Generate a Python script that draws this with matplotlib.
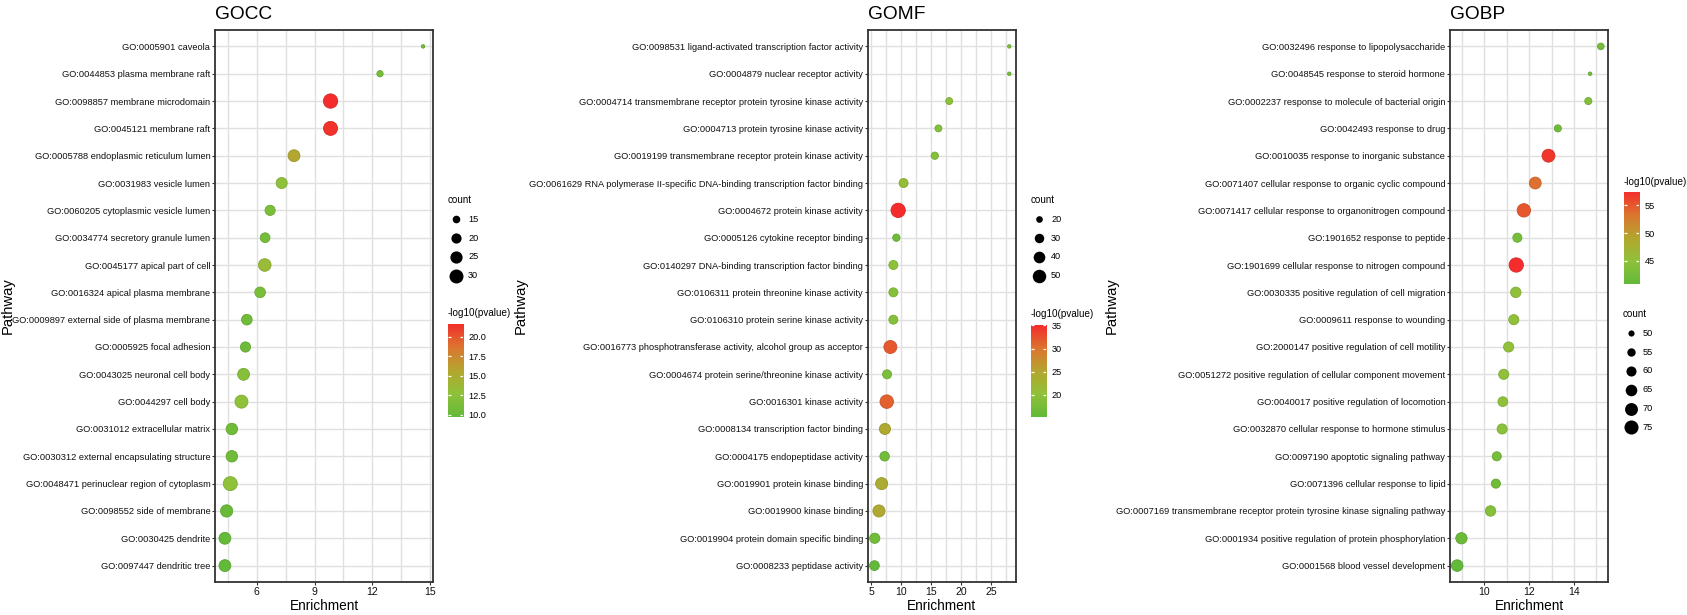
import numpy as np
import matplotlib
matplotlib.use("Agg")
import matplotlib.pyplot as plt
from matplotlib.colors import LinearSegmentedColormap, Normalize

W, H, DPI = 1687, 615, 100

# GO cellular component
gocc_terms = [
    "GO:0005901 caveola", "GO:0044853 plasma membrane raft",
    "GO:0098857 membrane microdomain", "GO:0045121 membrane raft",
    "GO:0005788 endoplasmic reticulum lumen", "GO:0031983 vesicle lumen",
    "GO:0060205 cytoplasmic vesicle lumen", "GO:0034774 secretory granule lumen",
    "GO:0045177 apical part of cell", "GO:0016324 apical plasma membrane",
    "GO:0009897 external side of plasma membrane", "GO:0005925 focal adhesion",
    "GO:0043025 neuronal cell body", "GO:0044297 cell body",
    "GO:0031012 extracellular matrix", "GO:0030312 external encapsulating structure",
    "GO:0048471 perinuclear region of cytoplasm", "GO:0098552 side of membrane",
    "GO:0030425 dendrite", "GO:0097447 dendritic tree",
]
gocc_enrich = [14.64, 12.4, 9.83, 9.83, 7.93, 7.29, 6.69, 6.43, 6.41, 6.17,
               5.48, 5.41, 5.31, 5.2, 4.7, 4.7, 4.62, 4.43, 4.34, 4.34]
gocc_count = [10, 13, 31, 30, 24, 22, 20, 19, 26, 21,
              21, 20, 24, 27, 23, 23, 30, 25, 24, 24]
gocc_logp = [10.6, 11.0, 21.6, 21.3, 15.5, 12.6, 11.4, 11.0, 13.4, 11.2,
             10.6, 10.5, 12.0, 12.6, 10.6, 10.6, 12.6, 10.2, 9.9, 9.7]

# GO molecular function
gomf_terms = [
    "GO:0098531 ligand-activated transcription factor activity",
    "GO:0004879 nuclear receptor activity",
    "GO:0004714 transmembrane receptor protein tyrosine kinase activity",
    "GO:0004713 protein tyrosine kinase activity",
    "GO:0019199 transmembrane receptor protein kinase activity",
    "GO:0061629 RNA polymerase II-specific DNA-binding transcription factor binding",
    "GO:0004672 protein kinase activity",
    "GO:0005126 cytokine receptor binding",
    "GO:0140297 DNA-binding transcription factor binding",
    "GO:0106311 protein threonine kinase activity",
    "GO:0106310 protein serine kinase activity",
    "GO:0016773 phosphotransferase activity, alcohol group as acceptor",
    "GO:0004674 protein serine/threonine kinase activity",
    "GO:0016301 kinase activity",
    "GO:0008134 transcription factor binding",
    "GO:0004175 endopeptidase activity",
    "GO:0019901 protein kinase binding",
    "GO:0019900 kinase binding",
    "GO:0019904 protein domain specific binding",
    "GO:0008233 peptidase activity",
]
gomf_enrich = [28.0, 28.0, 18.0, 16.2, 15.6, 10.4, 9.5, 9.2, 8.7, 8.7,
               8.7, 8.2, 7.65, 7.6, 7.3, 7.25, 6.75, 6.3, 5.6, 5.55]
gomf_count = [13, 13, 21, 21, 22, 28, 55, 22, 28, 28,
              28, 47, 28, 50, 37, 30, 42, 42, 33, 31]
gomf_logp = [18.0, 17.2, 20.0, 19.2, 19.0, 21.0, 35.1, 16.5, 20.0, 19.2,
             19.2, 32.0, 18.0, 31.5, 24.5, 17.0, 24.0, 24.5, 17.0, 15.3]

# GO biological process
gobp_terms = [
    "GO:0032496 response to lipopolysaccharide",
    "GO:0048545 response to steroid hormone",
    "GO:0002237 response to molecule of bacterial origin",
    "GO:0042493 response to drug",
    "GO:0010035 response to inorganic substance",
    "GO:0071407 cellular response to organic cyclic compound",
    "GO:0071417 cellular response to organonitrogen compound",
    "GO:1901652 response to peptide",
    "GO:1901699 cellular response to nitrogen compound",
    "GO:0030335 positive regulation of cell migration",
    "GO:0009611 response to wounding",
    "GO:2000147 positive regulation of cell motility",
    "GO:0051272 positive regulation of cellular component movement",
    "GO:0040017 positive regulation of locomotion",
    "GO:0032870 cellular response to hormone stimulus",
    "GO:0097190 apoptotic signaling pathway",
    "GO:0071396 cellular response to lipid",
    "GO:0007169 transmembrane receptor protein tyrosine kinase signaling pathway",
    "GO:0001934 positive regulation of protein phosphorylation",
    "GO:0001568 blood vessel development",
]
gobp_enrich = [15.2, 14.72, 14.64, 13.28, 12.86, 12.27, 11.76, 11.47, 11.42, 11.4,
               11.31, 11.08, 10.86, 10.82, 10.79, 10.55, 10.51, 10.27, 8.97, 8.78]
gobp_count = [51, 46, 52, 52, 70, 66, 72, 57, 76, 61,
              60, 60, 60, 59, 60, 57, 57, 61, 64, 65]
gobp_logp = [42.5, 42.0, 43.5, 42.0, 57.0, 53.5, 55.0, 42.5, 57.5, 45.0,
             45.0, 45.0, 45.0, 45.0, 44.5, 42.5, 42.0, 44.0, 41.5, 40.7]

plt.rcParams["font.family"] = ["Liberation Sans", "DejaVu Sans"]

cmap = LinearSegmentedColormap.from_list(
    "gr", ["#63b939", "#90c23a", "#b5a52f", "#dd7430", "#f42c2c"])


def px_box(l, t, r, b):
    return [l / W, 1 - b / H, (r - l) / W, (b - t) / H]


def dot_size(count, cmin, cmax, dmin=3.5, dmax=14.3):
    # ggplot-like area scaling, diameters given in pixels
    area = dmin ** 2 + (np.asarray(count, float) - cmin) / (cmax - cmin) * (dmax ** 2 - dmin ** 2)
    return area * (72 / DPI) ** 2


panels = [
    dict(title="GOCC", terms=gocc_terms, x=gocc_enrich, n=gocc_count, p=gocc_logp,
         box=(215, 30, 433, 582), major=[6, 9, 12, 15], pathway_x=8,
         count_breaks=[15, 20, 25, 30], cbar_ticks=[10, 12.5, 15, 17.5, 20], fmt="%.1f",
         count_xy=(448, 200), cbar_title_y=313, cbar_box=(448, 324, 463, 417)),
    dict(title="GOMF", terms=gomf_terms, x=gomf_enrich, n=gomf_count, p=gomf_logp,
         box=(867.7, 30, 1016, 582), major=[5, 10, 15, 20, 25], pathway_x=521,
         count_breaks=[20, 30, 40, 50], cbar_ticks=[20, 25, 30, 35], fmt="%d",
         count_xy=(1031, 200), cbar_title_y=314, cbar_box=(1031, 325, 1046.3, 416.7)),
    dict(title="GOBP", terms=gobp_terms, x=gobp_enrich, n=gobp_count, p=gobp_logp,
         box=(1450, 30, 1608, 582), major=[10, 12, 14], pathway_x=1112,
         count_breaks=[50, 55, 60, 65, 70, 75], cbar_ticks=[45, 50, 55], fmt="%d",
         count_xy=(1623, 314), cbar_title_y=182, cbar_box=(1623.7, 191.7, 1639.3, 284.3)),
]

fig = plt.figure(figsize=(W / DPI, H / DPI), dpi=DPI)
ov = fig.add_axes([0, 0, 1, 1], zorder=10)
ov.set_xlim(0, W)
ov.set_ylim(H, 0)
ov.axis("off")
ov.patch.set_alpha(0)

for pn in panels:
    l, t, r, b = pn["box"]
    ax = fig.add_axes(px_box(l, t, r, b))
    nrow = len(pn["terms"])
    y = np.arange(nrow)
    cmin, cmax = min(pn["n"]), max(pn["n"])
    vmin, vmax = min(pn["p"]), max(pn["p"])
    norm = Normalize(vmin, vmax)
    cols = cmap(norm(pn["p"]))
    edge = cols.copy()
    edge[:, :3] *= 0.88
    ax.scatter(pn["x"], y, s=dot_size(pn["n"], cmin, cmax), c=cols,
               edgecolors=edge, linewidths=0.6, zorder=3)

    lo, hi = min(pn["x"]), max(pn["x"])
    rng = hi - lo
    x0, x1 = lo - 0.05 * rng, hi + 0.05 * rng
    ax.set_xlim(x0, x1)
    ax.set_ylim(nrow - 1 + 0.6, -0.6)
    ax.set_yticks(y, pn["terms"])
    step = pn["major"][1] - pn["major"][0]
    minor = np.arange(pn["major"][0] - step / 2, x1, step)
    minor = [m for m in minor if x0 < m < x1]
    ax.set_xticks(pn["major"])
    ax.set_xticks(minor, minor=True)
    ax.grid(which="both", color="#e0e0e0", lw=1.0)
    ax.set_axisbelow(True)
    ax.tick_params(which="major", length=2.4, width=0.8, color="#333333", pad=1,
                   labelcolor="#111111")
    ax.tick_params(axis="y", labelsize=6.65)
    ax.tick_params(axis="x", labelsize=7.6)
    ax.tick_params(which="minor", length=0)
    for sp in ax.spines.values():
        sp.set_color("#333333")
        sp.set_linewidth(1.3)

    # titles and axis labels
    ov.text(l, 19, pn["title"], fontsize=13.8, ha="left", va="baseline")
    ov.text((l + r) / 2, 606, "Enrichment", fontsize=9.8, ha="center", va="center")
    ov.text(pn["pathway_x"], (t + b) / 2, "Pathway", fontsize=10.6, rotation=90,
            ha="center", va="center")

    # count legend
    cx, cy = pn["count_xy"]
    ov.text(cx, cy, "count", fontsize=7.1, ha="left", va="center")
    for i, br in enumerate(pn["count_breaks"]):
        yy = cy + 19.3 + i * 18.8
        ov.scatter([cx + 8.5], [yy], s=dot_size([br], cmin, cmax), color="black", lw=0)
        ov.text(cx + 20, yy, str(br), fontsize=6.6, ha="left", va="center")

    # colour bar
    bl, bt, br_, bb = pn["cbar_box"]
    ov.text(bl, pn["cbar_title_y"], "-log10(pvalue)", fontsize=7.1, ha="left", va="center")
    cax = fig.add_axes(px_box(bl, bt, br_, bb))
    grad = np.linspace(vmin, vmax, 256).reshape(-1, 1)
    cax.imshow(grad, origin="lower", aspect="auto", cmap=cmap, norm=norm,
               extent=[0, 1, vmin, vmax])
    cax.set_xlim(0, 1)
    cax.set_ylim(vmin, vmax)
    cax.hlines(pn["cbar_ticks"], 0, 0.2, color="white", lw=0.9)
    cax.hlines(pn["cbar_ticks"], 0.8, 1, color="white", lw=0.9)
    cax.set_xticks([])
    cax.yaxis.tick_right()
    cax.set_yticks(pn["cbar_ticks"], [pn["fmt"] % v for v in pn["cbar_ticks"]])
    cax.tick_params(axis="y", length=0, pad=4, labelsize=6.6)
    for sp in cax.spines.values():
        sp.set_visible(False)

fig.savefig("out.png", dpi=DPI)
